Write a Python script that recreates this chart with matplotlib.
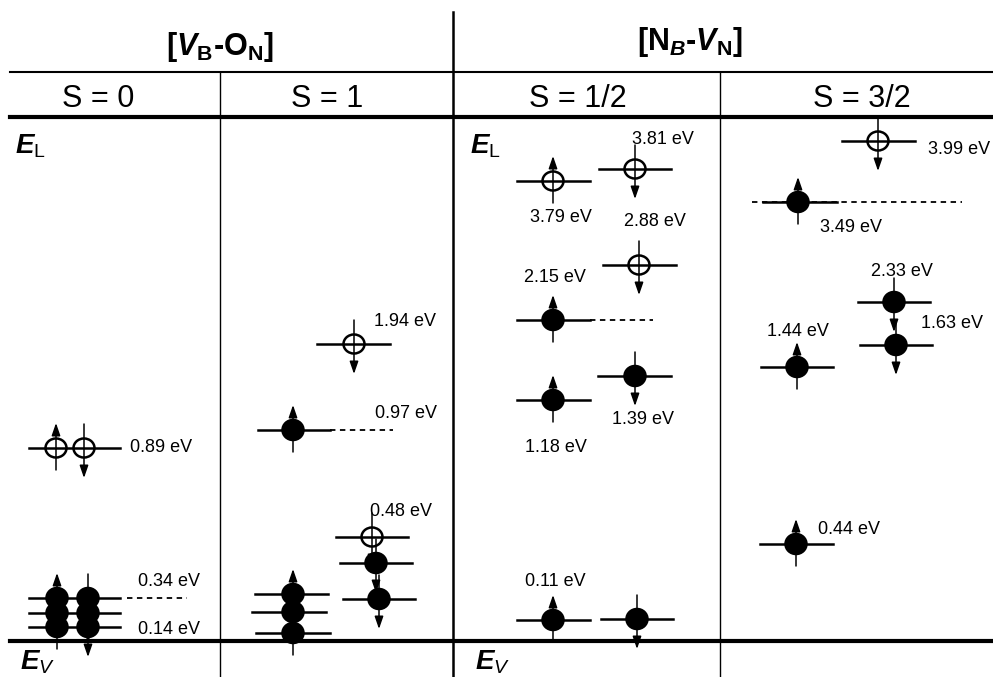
import matplotlib
matplotlib.use('Agg')
import matplotlib.pyplot as plt
from matplotlib.patches import Ellipse

plt.rcParams['font.family'] = ['Liberation Sans', 'DejaVu Sans']
plt.rcParams['mathtext.fontset'] = 'custom'
plt.rcParams['mathtext.rm'] = 'Liberation Sans'
plt.rcParams['mathtext.it'] = 'Liberation Sans:italic'
plt.rcParams['mathtext.bf'] = 'Liberation Sans:bold'
plt.rcParams['mathtext.bfit'] = 'Liberation Sans:italic:bold'

# defect titles and spin states
defects = [r'[$\mathbfit{V}_\mathbf{B}$-O$_\mathbf{N}$]', r'[N$_\mathbfit{B}$-$\mathbfit{V}_\mathbf{N}$]']
spin_states = ['S = 0', 'S = 1', 'S = 1/2', 'S = 3/2']

# level lines (x0, x1, y) in diagram units
level_lines = [
    (29, 120, 448), (29, 120, 598), (29, 120, 613), (29, 120, 627),
    (258, 330, 430), (317, 390, 344), (255, 328, 594), (252, 326, 612), (256, 330, 633),
    (336, 408, 537), (340, 412, 563), (343, 415, 599),
    (517, 590, 181), (599, 671, 169), (603, 676, 265), (517, 590, 320),
    (517, 590, 400), (598, 671, 376), (517, 590, 620), (601, 673, 619),
    (842, 915, 141), (763, 837, 202), (858, 930, 302), (860, 932, 345),
    (761, 833, 367), (760, 833, 544),
]
dashed_lines = [(127, 187, 598), (330, 393, 430), (590, 653, 320), (752, 962, 202)]

# orbitals: x, y, occupied, spin (+1 up, -1 down)
orb_x = [56, 84, 57, 57, 57, 88, 88, 88,
         293, 354, 293, 293, 293, 372, 376, 379,
         553, 635, 639, 553, 553, 635, 553, 637,
         878, 798, 894, 896, 797, 796]
orb_y = [448, 448, 598, 613, 627, 598, 613, 627,
         430, 344, 594, 612, 633, 537, 563, 599,
         181, 169, 265, 320, 400, 376, 620, 619,
         141, 202, 302, 345, 367, 544]
orb_filled = [0, 0, 1, 1, 1, 1, 1, 1,
              1, 0, 1, 1, 1, 0, 1, 1,
              0, 0, 0, 1, 1, 1, 1, 1,
              0, 1, 1, 1, 1, 1]
orb_spin = [1, -1, 1, 1, 1, -1, -1, -1,
            1, -1, 1, 1, 1, -1, -1, -1,
            1, -1, -1, 1, 1, -1, 1, -1,
            -1, 1, -1, -1, 1, 1]

# energy labels
lab_text = ['0.89 eV', '0.34 eV', '0.14 eV', '1.94 eV', '0.97 eV', '0.48 eV',
            '3.81 eV', '3.79 eV', '2.88 eV', '2.15 eV', '1.39 eV', '1.18 eV', '0.11 eV',
            '3.99 eV', '3.49 eV', '2.33 eV', '1.63 eV', '1.44 eV', '0.44 eV']
lab_x = [130, 138, 138, 374, 375, 370,
         632, 561, 655, 555, 643, 556, 555,
         928, 851, 902, 921, 798, 818]
lab_y = [448, 582, 629, 322, 413, 512,
         139, 218, 221, 278, 420, 448, 582,
         149, 228, 272, 324, 332, 529]
lab_ha = ['left', 'left', 'left', 'left', 'left', 'left',
          'left', 'center', 'center', 'center', 'center', 'center', 'center',
          'left', 'center', 'center', 'left', 'center', 'left']

fig = plt.figure(figsize=(9.93, 6.77), dpi=100)
ax = fig.add_axes([0, 0, 1, 1])
ax.set_xlim(0, 993)
ax.set_ylim(677, 0)
ax.axis('off')

# table frame
ax.plot([453, 453], [12, 677], color='k', lw=1.8)
ax.plot([220, 220], [72, 677], color='k', lw=1.0)
ax.plot([720, 720], [72, 677], color='k', lw=1.0)
ax.plot([10, 993], [72, 72], color='k', lw=1.5)
ax.plot([10, 993], [117, 117], color='k', lw=3.0)
ax.plot([10, 993], [641, 641], color='k', lw=3.0)

ax.text(220, 47, defects[0], ha='center', va='center', fontsize=22, fontweight='bold')
ax.text(690, 42, defects[1], ha='center', va='center', fontsize=22, fontweight='bold')
for xc, s in zip([98, 327, 578, 862], spin_states):
    ax.text(xc, 99, s, ha='center', va='center', fontsize=22)

for xe in [15, 470]:
    ax.text(xe, 154, r'$\mathbfit{E}_\mathrm{L}$', ha='left', va='baseline', fontsize=20)
    ax.text(xe + 5, 670, r'$\mathbfit{E}_{\mathit{V}}$', ha='left', va='baseline', fontsize=20)

for x0, x1, y in level_lines:
    ax.plot([x0, x1], [y, y], color='k', lw=1.8, zorder=2)
for x0, x1, y in dashed_lines:
    ax.plot([x0, x1], [y, y], color='k', lw=1.3, ls=(0, (3, 2.5)), zorder=2)

for x, y, f, s in zip(orb_x, orb_y, orb_filled, orb_spin):
    if s > 0:
        tail, tip = y + 22, y - 25
    else:
        tail, tip = y - 24, y + 30
    ax.annotate('', xy=(x, tip), xytext=(x, tail),
                arrowprops=dict(arrowstyle='-|>,head_length=0.75,head_width=0.26', lw=1.1,
                                color='k', shrinkA=0, shrinkB=0), zorder=3)
    ax.add_patch(Ellipse((x, y), 21, 19 if not f else 20, facecolor='k' if f else 'none',
                         edgecolor='k', lw=1.8, zorder=4))

for t, x, y, ha in zip(lab_text, lab_x, lab_y, lab_ha):
    ax.text(x, y, t, ha=ha, va='center', fontsize=13)

fig.savefig('out.png', dpi=100)
